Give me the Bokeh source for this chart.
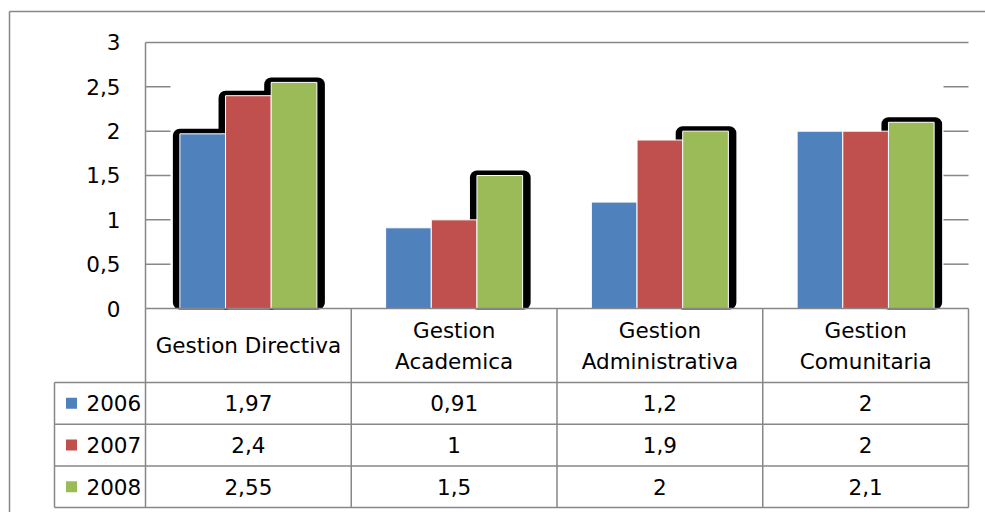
from bokeh.plotting import figure
from bokeh.models import Range1d
from bokeh.core.properties import value
from bokeh.embed import file_html
from bokeh.resources import INLINE

# ---- data ----
categories = ["Gestion Directiva", "Gestion\nAcademica", "Gestion\nAdministrativa", "Gestion\nComunitaria"]
series_names = ["2006", "2007", "2008"]
v2006 = [1.97, 0.91, 1.2, 2]
v2007 = [2.4, 1, 1.9, 2]
v2008 = [2.55, 1.5, 2, 2.1]
colors = ["#4F81BD", "#C0504D", "#9BBB59"]
y_ticks = [0, 0.5, 1, 1.5, 2, 2.5, 3]
tick_labels = ["0", "0,5", "1", "1,5", "2", "2,5", "3"]
# bars with the black outer shadow (category index -> series indices)
shadowed = {0: [0, 1, 2], 1: [2], 2: [2], 3: [2]}

series = [v2006, v2007, v2008]

# ---- layout (pixels) ----
W, H = 985, 512
PX_X = 205.75   # px per category
PX_Y = 88.67    # px per value unit
LEFT = 145      # canvas px of plot-area left
BASE = 308      # canvas px of value 0


def dx(px):
    return px / PX_X


def dy(px):
    return px / PX_Y


FONT = value("DejaVu Sans")
FS = "21.5px"
GRAY = "#878787"
LW = 1.5

p = figure(width=W, height=H, output_backend="svg", toolbar_location=None,
           x_range=Range1d(-dx(LEFT), dx(W - LEFT)),
           y_range=Range1d(-dy(H - BASE), dy(BASE)),
           x_axis_location=None, y_axis_location=None,
           min_border=0, outline_line_color=None,
           background_fill_color="white", border_fill_color="white")
p.grid.visible = False

n_cat = len(categories)
ymax = y_ticks[-1]

# outer chart border (top and left)
top_y = dy(BASE - 11)
left_x = -dx(LEFT - 9)
p.segment(x0=[left_x, left_x], y0=[top_y, top_y], x1=[dx(W - LEFT), left_x],
          y1=[top_y, -dy(H - BASE)], line_color=GRAY, line_width=LW)

# gridline stubs (left and right ends) and the top line
stub = dx(25)
mid_ticks = [t for t in y_ticks if 0 < t < ymax]
p.segment(x0=[0] * len(mid_ticks), y0=mid_ticks, x1=[stub] * len(mid_ticks), y1=mid_ticks,
          line_color=GRAY, line_width=LW)
p.segment(x0=[n_cat - stub] * len(mid_ticks), y0=mid_ticks, x1=[n_cat] * len(mid_ticks), y1=mid_ticks,
          line_color=GRAY, line_width=LW)
p.segment(x0=[0], y0=[ymax], x1=[n_cat], y1=[ymax], line_color=GRAY, line_width=LW)

# bars
BW = dx(45.67)
bx = [[i + 0.5 + (j - 1) * BW for i in range(n_cat)] for j in range(len(series))]

# shadows
sl, sr, st = [], [], []
for i, js in shadowed.items():
    for j in js:
        sl.append(bx[j][i] - BW / 2 - dx(7))
        sr.append(bx[j][i] + BW / 2 + dx(8))
        st.append(series[j][i] + dy(5))
p.quad(left=sl, right=sr, top=st, bottom=[-dy(1)] * len(sl), fill_color="black",
       line_color=None, border_radius=7)

for j, vals in enumerate(series):
    p.vbar(x=bx[j], top=vals, bottom=0, width=BW, fill_color=colors[j],
           line_color="white", line_width=1)

# table geometry
hdr_b = -dy(74)
row_h = dy(41.7)
row_edges = [hdr_b - k * row_h for k in range(len(series) + 1)]
leg_left = -dx(91)

# axis / table lines
hx0 = [0, leg_left] + [leg_left] * len(series)
hy = [0, hdr_b] + row_edges[1:]
hx1 = [n_cat] * len(hx0)
p.segment(x0=hx0, y0=hy, x1=hx1, y1=hy, line_color=GRAY, line_width=LW)
vx = [0] + list(range(1, n_cat + 1)) + [leg_left]
vy0 = [ymax] + [0] * n_cat + [hdr_b]
vy1 = [row_edges[-1]] * len(vx)
p.segment(x0=vx, y0=vy0, x1=vx, y1=vy1, line_color=GRAY, line_width=LW)

# y tick labels
p.text(x=[-dx(25)] * len(y_ticks), y=y_ticks, text=tick_labels, text_font=FONT,
       text_font_size=FS, text_align="right", text_baseline="middle", text_color="black")

# category header texts
cx, cy, ct = [], [], []
hdr_mid = hdr_b / 2
for i, c in enumerate(categories):
    lines = c.split("\n")
    n = len(lines)
    for k, ln in enumerate(lines):
        cx.append(i + 0.5)
        cy.append(hdr_mid - (k - (n - 1) / 2) * dy(31))
        ct.append(ln)
p.text(x=cx, y=cy, text=ct, text_font=FONT, text_font_size=FS, text_align="center",
       text_baseline="middle", text_color="black")

# table values
row_mid = [(row_edges[k] + row_edges[k + 1]) / 2 for k in range(len(series))]
tx, ty, tt = [], [], []
for j, vals in enumerate(series):
    for i, v in enumerate(vals):
        tx.append(i + 0.5)
        ty.append(row_mid[j])
        tt.append(f"{v:g}".replace(".", ","))
p.text(x=tx, y=ty, text=tt, text_font=FONT, text_font_size=FS, text_align="center",
       text_baseline="middle", text_color="black")

# legend keys in table
p.scatter(x=[-dx(74)] * len(series), y=row_mid, marker="square", size=11,
          fill_color=colors, line_color=None)
p.text(x=[-dx(59)] * len(series), y=row_mid, text=series_names, text_font=FONT,
       text_font_size=FS, text_align="left", text_baseline="middle", text_color="black")

open("out.html", "w").write(file_html(p, INLINE))
